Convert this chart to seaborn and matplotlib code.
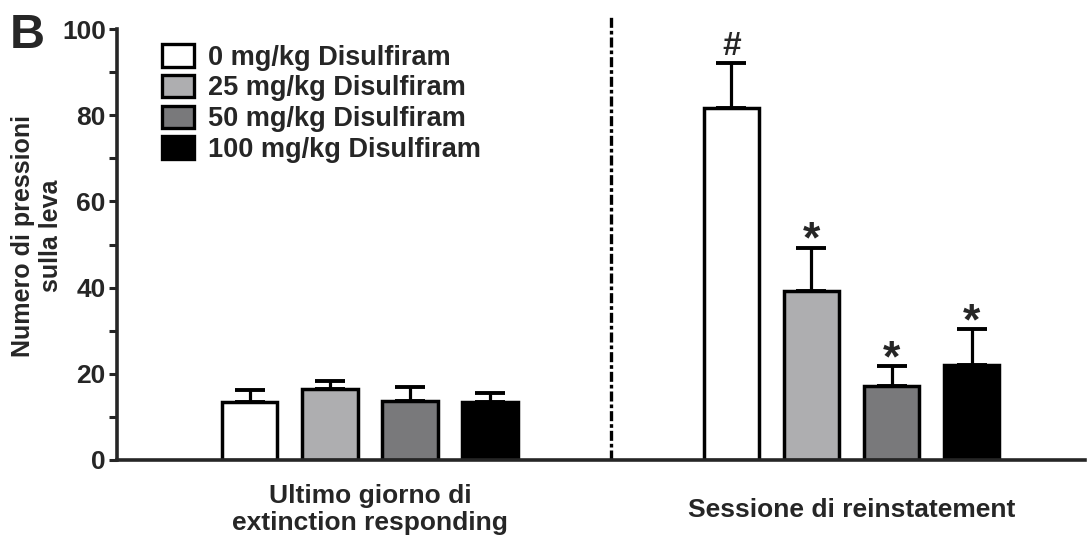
import matplotlib

matplotlib.use("Agg")
import matplotlib.pyplot as plt
import numpy as np
import pandas as pd
import seaborn as sns
from matplotlib.patches import Patch
from matplotlib.ticker import MultipleLocator

sessions = ["Ultimo giorno di\nextinction responding", "Sessione di reinstatement"]
doses = ["0 mg/kg Disulfiram", "25 mg/kg Disulfiram", "50 mg/kg Disulfiram", "100 mg/kg Disulfiram"]
colors = ["#ffffff", "#aeaeb0", "#79797b", "#000000"]

# mean and SEM per dose, [extinction, reinstatement]
means = {
    "0 mg/kg Disulfiram": [13.4, 81.7],
    "25 mg/kg Disulfiram": [16.5, 39.3],
    "50 mg/kg Disulfiram": [13.6, 17.2],
    "100 mg/kg Disulfiram": [13.4, 22.0],
}
sems = {
    "0 mg/kg Disulfiram": [2.8, 10.4],
    "25 mg/kg Disulfiram": [1.9, 10.0],
    "50 mg/kg Disulfiram": [3.3, 4.6],
    "100 mg/kg Disulfiram": [2.2, 8.3],
}
marks = {
    "0 mg/kg Disulfiram": ["", "#"],
    "25 mg/kg Disulfiram": ["", "*"],
    "50 mg/kg Disulfiram": ["", "*"],
    "100 mg/kg Disulfiram": ["", "*"],
}

rows = []
for d in doses:
    for i, s in enumerate(sessions):
        rows.append({"session": s, "dose": d, "value": means[d][i]})
df = pd.DataFrame(rows)

sns.set_style("ticks")
plt.rcParams["font.family"] = ["Liberation Sans", "DejaVu Sans"]
plt.rcParams["font.weight"] = "bold"

fig = plt.figure(figsize=(10.87, 5.39), dpi=100)
ax = fig.add_axes([0.1076, 0.1466, 0.8906, 0.7994])

sns.barplot(
    data=df, x="session", y="value", hue="dose", order=sessions, hue_order=doses,
    palette=colors, edgecolor="black", linewidth=2.5, width=0.665, gap=0.31,
    errorbar=None, legend=False, ax=ax,
)

# upper-only SEM bars and significance marks
for d, cont in zip(doses, ax.containers):
    for i, bar in enumerate(cont):
        xc = bar.get_x() + bar.get_width() / 2
        top = bar.get_height()
        ax.errorbar(xc, top, yerr=[[0], [sems[d][i]]], fmt="none", ecolor="black",
                    elinewidth=2.3, capsize=11, capthick=2.8, zorder=1)
        if marks[d][i] == "*":
            ax.text(xc, top + sems[d][i] - 3.3, "*", ha="center", va="bottom",
                    fontsize=32, fontweight="bold")
        elif marks[d][i]:
            ax.text(xc, top + sems[d][i] + 0.2, marks[d][i], ha="center", va="bottom",
                    fontsize=24, fontweight="bold")

ax.plot([0.5, 0.5], [0, 103], color="black", lw=2.4, linestyle=(0, (3.0, 0.9, 1.1, 0.9)),
        clip_on=False, zorder=0)

ax.set_xlim(-0.5254, 1.485)
ax.set_ylim(0, 100)
ax.yaxis.set_major_locator(MultipleLocator(20))
ax.yaxis.set_minor_locator(MultipleLocator(10))
ax.tick_params(axis="y", which="both", length=6, width=2.2, labelsize=19, pad=2)
ax.tick_params(axis="x", length=0, labelsize=19, pad=14)
for lab in ax.get_xticklabels():
    lab.set_verticalalignment("center")
    lab.set_y(-0.07)
for lab in ax.get_yticklabels() + ax.get_xticklabels():
    lab.set_fontweight("bold")
ax.set_xlabel("")
ax.set_ylabel("Numero di pressioni\nsulla leva", fontsize=18, fontweight="bold",
              linespacing=1.2)
ax.yaxis.set_label_coords(-0.056, 0.52)
sns.despine(ax=ax)
for sp in ("left", "bottom"):
    ax.spines[sp].set_linewidth(2.6)

handles = [Patch(facecolor=c, edgecolor="black", linewidth=2.4) for c in colors]
ax.legend(handles, doses, loc="upper left", bbox_to_anchor=(0.035, 0.99), frameon=False,
          prop={"size": 19.5, "weight": "bold"}, handlelength=1.2, handleheight=0.9,
          handletextpad=0.5, labelspacing=0.15, borderaxespad=0)

fig.text(0.009, 0.975, "B", fontsize=35, fontweight="bold", va="top", ha="left")

fig.savefig("out.png", dpi=100)
